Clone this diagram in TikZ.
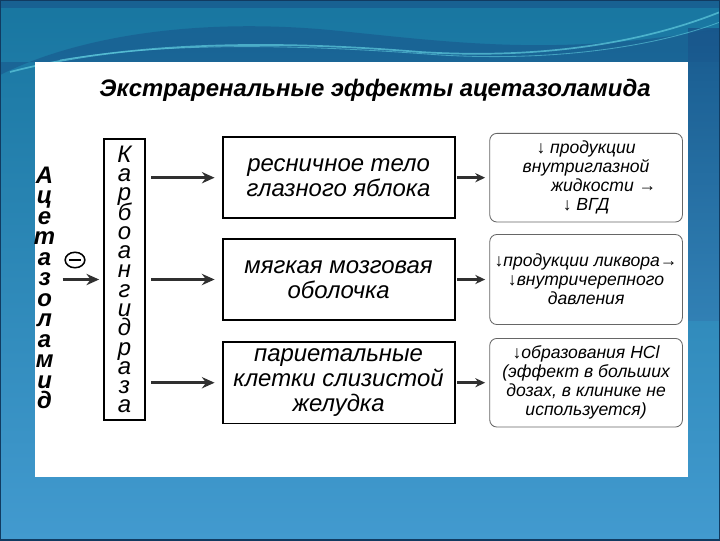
\documentclass[tikz,border=0pt]{standalone}
\usepackage{fontspec}
\setmainfont{Liberation Sans}
\usepackage{xcolor}
\usetikzlibrary{arrows.meta,positioning,shapes.geometric}
\definecolor{slidetop}{RGB}{24,118,160}
\definecolor{slidebot}{RGB}{66,154,207}
\definecolor{slidedark}{RGB}{24,84,138}
\definecolor{wavelight}{RGB}{96,204,222}
\definecolor{arrowgray}{RGB}{48,48,48}
\tikzset{
  letters/.style={
    align=center,
    inner sep=1pt,
    font=\fontsize{17}{14.6}\selectfont\bfseries\itshape
  },
  enzyme/.style={
    draw,
    line width=1.1pt,
    align=center,
    minimum width=29pt,
    minimum height=200pt,
    inner sep=1pt,
    font=\fontsize{17}{13.7}\selectfont\itshape
  },
  organ/.style={
    draw,
    line width=1.4pt,
    align=center,
    minimum width=165pt,
    minimum height=58pt,
    font=\fontsize{17}{18}\selectfont\itshape
  },
  effect/.style={
    draw=black!60,
    line width=0.6pt,
    rounded corners=5pt,
    align=center,
    minimum width=137pt,
    minimum height=63pt,
    inner sep=2pt,
    font=\fontsize{12.5}{13.5}\selectfont\itshape
  },
  blocker/.style={
    ellipse,
    draw,
    line width=1.1pt,
    inner sep=0pt,
    minimum width=14pt,
    minimum height=11pt,
    path picture={\draw[line width=1.4pt]
      ([xshift=3pt]path picture bounding box.west) -- ([xshift=-3pt]path picture bounding box.east);}
  },
  flow/.style={-{Stealth[length=9pt,width=8pt]}, line width=2.2pt, arrowgray},
  shortflow/.style={-{Stealth[length=7pt,width=6.5pt]}, line width=1.8pt, arrowgray}
}
\begin{document}
\lineskiplimit=-50pt
\begin{tikzpicture}[x=0.025cm, y=-0.025cm]
  \useasboundingbox (0,0) rectangle (720,540);
  % slide background
  \shade[top color=slidetop, bottom color=slidebot] (0,0) rectangle (720,540);
  \fill[slidedark, opacity=0.6] (0,0) rectangle (720,8);
  \fill[slidedark, opacity=0.55] (0,75) .. controls (80,35) and (200,18) .. (330,30)
    .. controls (450,42) and (560,58) .. (720,28) -- (720,62) -- (0,62) -- cycle;
  \shade[top color=slidedark, bottom color=slidedark!40!slidebot, opacity=0.8] (688,28) rectangle (720,320);
  \draw[wavelight, line width=1.2pt, opacity=0.7] (10,72) .. controls (140,38) and (300,42) .. (420,52)
    .. controls (550,60) and (650,40) .. (720,12);
  \draw[wavelight, line width=0.6pt, opacity=0.6] (60,60) .. controls (180,40) and (320,46) .. (440,55)
    .. controls (560,62) and (660,45) .. (720,22);
  \draw[slidedark!70!black, line width=1pt] (0,0) rectangle (720,540);
  \fill[white] (35,62) rectangle (688,477);

  \node[font=\fontsize{17}{22}\selectfont\bfseries\itshape] (title) at (375,90)
    {Экстраренальные эффекты ацетазоламида};

  \node[enzyme] (carbo) at (124.5,279.5) {К\\а\\р\\б\\о\\а\\н\\г\\и\\д\\р\\а\\з\\а};
  \node[letters, left=33pt of carbo, yshift=-6pt] (acet) {А\\ц\\е\\т\\а\\з\\о\\л\\а\\м\\и\\д};
  \node[blocker] (inhib) at (75,260) {};

  \node[organ, right=54pt of carbo] (meninges) {мягкая мозговая\\оболочка};
  \node[organ, above=13pt of meninges] (ciliary) {ресничное тело\\глазного яблока};
  \node[organ, below=14pt of meninges] (parietal) {париетальные\\клетки слизистой\\желудка};

  \node[effect, right=24pt of ciliary] (aqueous)
    {↓ продукции\\внутриглазной\\\hspace*{2em}жидкости →\\↓ ВГД};
  \node[effect, right=24pt of meninges, minimum height=64pt] (csf)
    {↓продукции ликвора→\\↓внутричерепного\\давления};
  \node[effect, right=24pt of parietal] (acid)
    {↓образования HCl\\(эффект в больших\\дозах, в клинике не\\используется)};

  \draw[flow, shorten <=4pt, shorten >=3pt] (acet.east |- carbo.west) -- (carbo.west);
  \draw[flow, shorten <=4pt, shorten >=5pt] (carbo.east |- ciliary.west) -- (ciliary.west);
  \draw[flow, shorten <=4pt, shorten >=5pt] (carbo.east |- meninges.west) -- (meninges.west);
  \draw[flow, shorten <=4pt, shorten >=5pt] (carbo.east |- parietal.west) -- (parietal.west);
  \draw[shortflow, shorten <=1pt, shorten >=3pt] (ciliary.east) -- (aqueous.west);
  \draw[shortflow, shorten <=1pt, shorten >=3pt] (meninges.east) -- (csf.west);
  \draw[shortflow, shorten <=1pt, shorten >=3pt] (parietal.east) -- (acid.west);
\end{tikzpicture}
\end{document}
